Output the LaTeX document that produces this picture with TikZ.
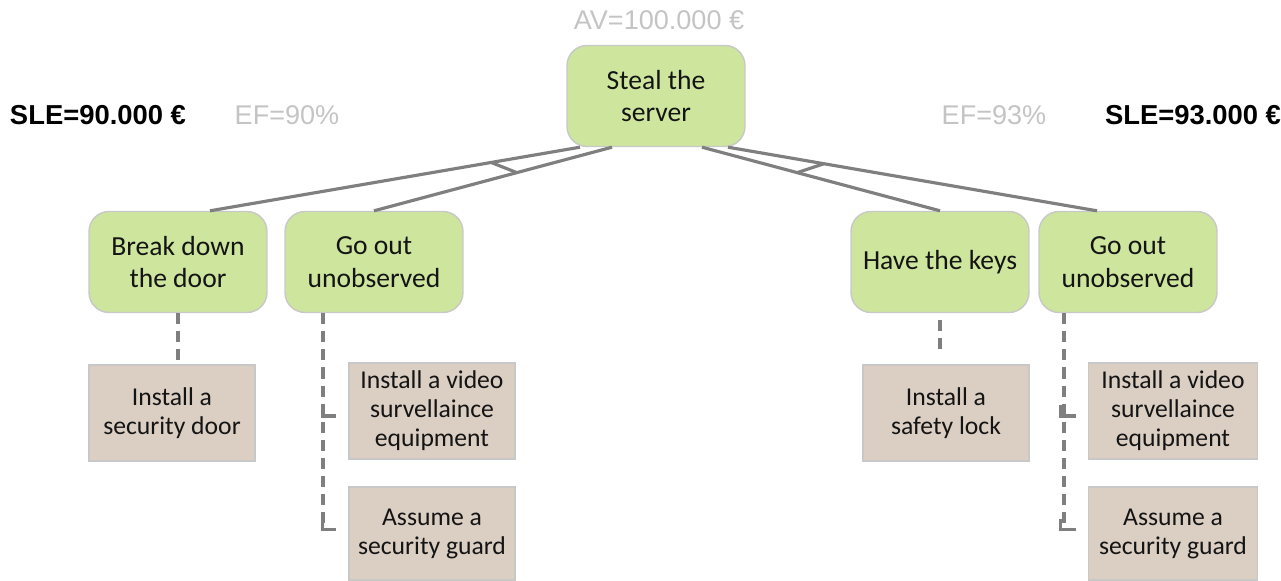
\documentclass[tikz,border=0pt]{standalone}
\usepackage{fontspec}
\setmainfont{Carlito}
\newfontfamily\arialfont{Liberation Sans}
\usetikzlibrary{calc}

\definecolor{leafgreen}{HTML}{CEE59E}
\definecolor{ctrlbeige}{HTML}{DBCEC3}
\definecolor{edgegrey}{HTML}{7F7F7F}
\definecolor{rimgrey}{HTML}{C8C8C8}
\definecolor{notegrey}{HTML}{C4C4C4}

\tikzset{
  goal/.style={draw=rimgrey, line width=0.8pt, fill=leafgreen, rounded corners=0.4cm,
    minimum width=3.56cm, minimum height=2.02cm, align=center, inner sep=2pt,
    text=black!92, font=\fontsize{15.7}{18.4}\selectfont},
  ctrl/.style={draw=rimgrey, line width=0.8pt, fill=ctrlbeige,
    minimum width=3.32cm, minimum height=1.92cm, align=center, inner sep=2pt,
    text=black!92, font=\fontsize{14.6}{16.5}\selectfont},
  link/.style={draw=edgegrey, line width=1.8pt},
  dep/.style={draw=edgegrey, line width=1.8pt, dash pattern=on 6.3pt off 4pt},
  corner/.style={draw=edgegrey, line width=1.8pt},
  note/.style={text=notegrey, font=\arialfont\fontsize{15.4}{18}\selectfont},
  loss/.style={font=\arialfont\bfseries\fontsize{15.6}{18}\selectfont}
}

\begin{document}
\begin{tikzpicture}[x=0.02cm, y=-0.02cm]
  \useasboundingbox (0,0) rectangle (1281,581);

  % attack goal and sub-goals
  \node[goal] (root) at (656,96)  {Steal the\\server};
  \node[goal] (brk)  at (178,262) {Break down\\the door};
  \node[goal] (goL)  at (374,262) {Go out\\unobserved};
  \node[goal] (keys) at (940,262) {Have the keys};
  \node[goal] (goR)  at (1128,262) {Go out\\unobserved};

  % countermeasures
  \node[ctrl] (door) at (172,413) {Install a\\security door};
  \node[ctrl] (vidL) at (432,411) {Install a video\\survellaince\\equipment};
  \node[ctrl, minimum height=1.86cm] (grdL) at (432,533.5) {Assume a\\security guard};
  \node[ctrl] (lock) at (946,413) {Install a\\safety lock};
  \node[ctrl, minimum width=3.38cm] (vidR) at (1173,411) {Install a video\\survellaince\\equipment};
  \node[ctrl, minimum width=3.38cm, minimum height=1.86cm] (grdR) at (1173,533.5) {Assume a\\security guard};

  % values
  \node[note] (av)  at (659,20)  {AV=100.000 €};
  \node[note] (efL) at (287,115) {EF=90\%};
  \node[note] (efR) at (994,115) {EF=93\%};
  \node[loss] (sleL) at (98,115)  {SLE=90.000 €};
  \node[loss] (sleR) at (1193,115) {SLE=93.000 €};

  % AND branches
  \draw[link] ($(root.south)+(-76,0)$) -- coordinate[pos=0.24] (andL1) ($(brk.north)+(32,0)$);
  \draw[link] ($(root.south)+(-44,0)$) -- coordinate[pos=0.40] (andL2) (goL.north);
  \draw[link] (andL1) -- (andL2);
  \draw[link] ($(root.south)+(46,0)$) -- coordinate[pos=0.40] (andR1) (keys.north);
  \draw[link] ($(root.south)+(72,0)$) -- coordinate[pos=0.26] (andR2) ($(goR.north)+(-31,0)$);
  \draw[link] (andR1) -- (andR2);

  % countermeasure links
  \draw[dep] (brk.south) -- (brk.south |- door.north);
  \draw[dep] ($(goL.south)+(-51,0)$) |- ($(vidL.west)+(-12,5)$);
  \draw[dep] ($(goL.south)+(-51,0)$) |- ($(grdL.west)+(-12,-4)$);
  \draw[corner] ($(vidL.west)+(-26,-6)$) |- ($(vidL.west)+(-12,5)$);
  \draw[corner] ($(grdL.west)+(-26,-15)$) |- ($(grdL.west)+(-12,-4)$);
  \draw[dep, shorten <=0.14cm, shorten >=0.16cm] (keys.south) -- (keys.south |- lock.north);
  \draw[dep] ($(goR.south)+(-64,0)$) |- ($(vidR.west)+(-12,5)$);
  \draw[dep] ($(goR.south)+(-64,0)$) |- ($(grdR.west)+(-12,-4)$);
  \draw[corner] ($(vidR.west)+(-27,-6)$) |- ($(vidR.west)+(-12,5)$);
  \draw[corner] ($(grdR.west)+(-27,-15)$) |- ($(grdR.west)+(-12,-4)$);
\end{tikzpicture}
\end{document}
